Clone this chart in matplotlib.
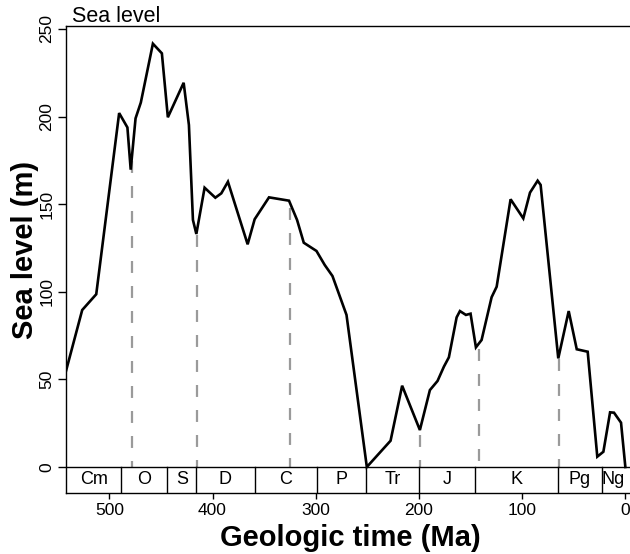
import matplotlib
matplotlib.use("Agg")
import matplotlib.pyplot as plt
import numpy as np

plt.rcParams['font.family'] = ['Liberation Sans', 'DejaVu Sans']
plt.rcParams['lines.scale_dashes'] = False

# Sea level curve (age in Ma, sea level in m)
ages = [542, 526.3, 512.7, 490.5, 482.5, 479.3, 474.6, 469.5, 457.8, 449.1,
        443.3, 428.0, 422.9, 419.0, 415.7, 407.7, 397.3, 391.5, 385.1, 366.0,
        359.2, 345.3, 325.9, 318.1, 311.6, 299.3, 291.3, 283.8, 270.2, 250.5,
        227.5, 216.3, 199.1, 189.4, 182.0, 175.8, 171.0, 163.5, 160.3, 154.5,
        150.0, 144.8, 139.3, 129.6, 124.7, 111.2, 98.9, 92.4, 85.0, 82.1,
        65.0, 54.9, 47.1, 36.5, 27.2, 21.3, 14.8, 11.0, 4.2, 0]
sea = [54.8, 89.6, 98.6, 202.0, 193.8, 169.7, 199.0, 208.0, 241.6, 236.1,
       199.6, 219.3, 195.2, 141.0, 133.0, 159.4, 153.7, 156.2, 162.8, 127.1,
       141.4, 153.9, 152.0, 141.0, 128.0, 123.3, 115.3, 109.0, 86.8, 0.0,
       15.0, 46.4, 21.1, 43.9, 49.1, 57.3, 62.6, 85.4, 89.0, 86.8,
       87.5, 68.3, 72.5, 96.9, 102.9, 152.8, 141.9, 156.6, 163.4, 161.0,
       62.0, 89.0, 67.2, 65.8, 5.9, 8.7, 31.2, 31.0, 25.3, 0.0]

# Dashed marker lines (ages, Ma)
dash_ages = [478, 415, 325, 199, 142, 64]

# Geologic periods
periods = ['Cm', 'O', 'S', 'D', 'C', 'P', 'Tr', 'J', 'K', 'Pg', 'Ng']
period_bounds = [542, 488.3, 443.7, 416.0, 359.2, 299.0, 251.0, 199.6, 145.5, 65.5, 23.03, 0]

xticks = [500, 400, 300, 200, 100, 0]
yticks = [0, 50, 100, 150, 200, 250]

W, H = 630, 554
fig = plt.figure(figsize=(W / 100, H / 100), dpi=100)
left_px, right_px, top_px, bot_px = 66, 630, 26, 493
ax = fig.add_axes([left_px / W, 1 - bot_px / H, (right_px - left_px) / W, (bot_px - top_px) / H])

ybot = -14.84
ytop = 251.7
ax.set_xlim(542, -4.5)
ax.set_ylim(ybot, ytop)

# dashed lines
a_sorted = np.array(ages[::-1], dtype=float)
s_sorted = np.array(sea[::-1], dtype=float)
dash_tops = np.interp(dash_ages, a_sorted, s_sorted)
for a, t in zip(dash_ages, dash_tops):
    ax.plot([a, a], [t - 3, 0], color='#9a9a9a', lw=1.6,
            linestyle=(0, (8.6, 9.4)), solid_capstyle='butt', dash_capstyle='butt', zorder=2)

ax.plot(ages, sea, color='black', lw=1.9, zorder=3, solid_joinstyle='miter')

# period box
ax.axhline(0, color='black', lw=1.0, zorder=4)
for b in period_bounds[1:-1]:
    ax.plot([b, b], [ybot, 0], color='black', lw=1.0, zorder=4)
for i, name in enumerate(periods):
    mid = (period_bounds[i] + period_bounds[i + 1]) / 2
    ax.text(mid, ybot / 2, name, ha='center', va='center', fontsize=13)

for side in ['right']:
    ax.spines[side].set_visible(False)
for side in ['left', 'top', 'bottom']:
    ax.spines[side].set_linewidth(1.0)

ax.set_xticks(xticks)
ax.set_xticklabels([str(v) for v in xticks])
ax.set_yticks(yticks)
ax.set_yticklabels([str(v) for v in yticks], rotation=90, va='center')
ax.tick_params(axis='x', length=4, width=1, pad=3, labelsize=12.5)
ax.tick_params(axis='y', length=5.5, width=1, pad=3, labelsize=12.5)

fig.text(71.7 / W, 1 - 21.7 / H, 'Sea level', ha='left', va='baseline', fontsize=15.5)
fig.text(350 / W, 1 - 546 / H, 'Geologic time (Ma)', ha='center', va='baseline',
         fontsize=21, fontweight='bold')
fig.text(33 / W, 1 - 250 / H, 'Sea level (m)', ha='center', va='baseline',
         rotation=90, rotation_mode='anchor', fontsize=21, fontweight='bold')

fig.savefig('out.png', dpi=100)
